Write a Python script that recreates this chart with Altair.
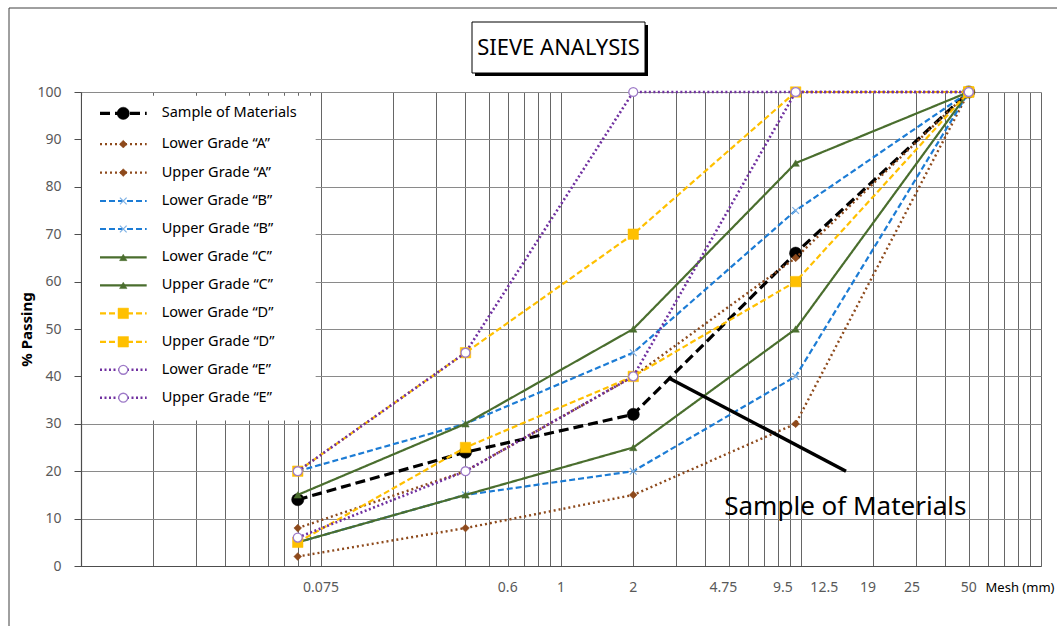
import altair as alt
import pandas as pd

# ---------------- data ----------------
sieve_mm = [0.08, 0.4, 2, 9.5, 50]

series_names = [
    "Sample of Materials",
    "Lower Grade \u201cA\u201d", "Upper Grade \u201cA\u201d",
    "Lower Grade \u201cB\u201d", "Upper Grade \u201cB\u201d",
    "Lower Grade \u201cC\u201d", "Upper Grade \u201cC\u201d",
    "Lower Grade \u201cD\u201d", "Upper Grade \u201cD\u201d",
    "Lower Grade \u201cE\u201d", "Upper Grade \u201cE\u201d",
]
sample = [14, 24, 32, 66, 100]
lower_a = [2, 8, 15, 30, 100]
upper_a = [8, 20, 40, 65, 100]
lower_b = [5, 15, 20, 40, 100]
upper_b = [20, 30, 45, 75, 100]
lower_c = [5, 15, 25, 50, 100]
upper_c = [15, 30, 50, 85, 100]
lower_d = [5, 25, 40, 60, 100]
upper_d = [20, 45, 70, 100, 100]
lower_e = [6, 20, 40, 100, 100]
upper_e = [20, 45, 100, 100, 100]
series_values = [sample, lower_a, upper_a, lower_b, upper_b, lower_c, upper_c,
                 lower_d, upper_d, lower_e, upper_e]

x_tick_labels = ["0.075", "0.6", "1", "2", "4.75", "9.5", "12.5", "19", "25", "50"]
x_tick_label_at = [0.1, 0.6, 1, 2, 4.75, 8.4, 12.5, 19, 29, 50]
y_ticks = list(range(0, 101, 10))
x_grid = [k * 10.0 ** e for e in (-2, -1, 0, 1) for k in range(1, 10)] + [100]

# legend layout (data coordinates)
legend_rows_y = [95.5, 89.0, 83.0, 77.0, 71.1, 65.1, 59.2, 53.3, 47.3, 41.4, 35.5]

FONT = "Noto Sans"
BROWN = "#8E4A1C"
BLUE = "#1C7CD5"
GREEN = "#4A6E2E"
YELLOW = "#FFC000"
PURPLE = "#7030A0"
XPATH = "M -1 -1 L 1 1 M -1 1 L 1 -1"

style = {
    "S": dict(color="#000000", dash=[10, 5], width=3.2, shape="circle", size=150,
              fill="#000000", mstroke="#000000", filled=True),
    "A": dict(color=BROWN, dash=[2, 3], width=2.4, shape="diamond", size=60,
              fill=BROWN, mstroke=BROWN, filled=True),
    "B": dict(color=BLUE, dash=[6, 3], width=2.2, shape=XPATH, size=45,
              fill=None, mstroke="#7FB2E5", filled=False),
    "C": dict(color=GREEN, dash=[1, 0], width=2.2, shape="triangle-up", size=55,
              fill=GREEN, mstroke=GREEN, filled=True),
    "D": dict(color=YELLOW, dash=[6, 3], width=2.2, shape="square", size=110,
              fill=YELLOW, mstroke=YELLOW, filled=True),
    "E": dict(color=PURPLE, dash=[2, 2.5], width=2.6, shape="circle", size=80,
              fill="#FFFFFF", mstroke="#9E7BC8", filled=True),
}
groups = ["S", "A", "A", "B", "B", "C", "C", "D", "D", "E", "E"]

xs = alt.Scale(type="log", domain=[0.01, 100], nice=False)
ys = alt.Scale(domain=[0, 100], nice=False)

X_AX = alt.Axis(
    values=x_grid, labels=False, ticks=False, grid=True,
    gridColor="#666666", gridWidth=1, domainColor="#4D4D4D", domainWidth=1.2,
    title=None)
Y_AX = alt.Axis(
    values=y_ticks, grid=True, gridColor="#8A8A8A", gridWidth=1.2,
    tickSize=7, tickColor="#4D4D4D", domainColor="#4D4D4D", domainWidth=1.2,
    labelColor="#595959", labelFont=FONT, labelFontSize=14, labelPadding=13,
    title="% Passing", titleFont=FONT, titleFontSize=15, titleFontWeight="bold",
    titleColor="#000000", titlePadding=2)


def X(field):
    return alt.X(field, scale=xs, axis=X_AX)


def Y(field):
    return alt.Y(field, scale=ys, axis=Y_AX)


W, H = 960, 474
layers = []

# data series
for name, vals, g in zip(series_names, series_values, groups):
    st = style[g]
    df = pd.DataFrame({"x": sieve_mm, "y": vals, "series": name})
    line = alt.Chart(df).mark_line(
        color=st["color"], strokeDash=st["dash"], strokeWidth=st["width"]
    ).encode(x=X("x:Q"), y=Y("y:Q"))
    pkw = dict(shape=st["shape"], size=st["size"], stroke=st["mstroke"], opacity=1)
    if st["filled"]:
        pkw.update(filled=True, fill=st["fill"], strokeWidth=1.3 if g == "E" else 0.5)
    else:
        pkw.update(filled=False, strokeWidth=1.2)
    pts = alt.Chart(df).mark_point(**pkw).encode(x=X("x:Q"), y=Y("y:Q"))
    layers += [line, pts]

# x tick labels
lab_df = pd.DataFrame({"x": x_tick_label_at, "t": x_tick_labels})
layers.append(alt.Chart(lab_df).mark_text(
    font=FONT, fontSize=14, color="#595959", baseline="middle", align="center"
).encode(x=X("x:Q"), y=alt.value(H + 22), text="t:N"))

one = pd.DataFrame({"a": [0]})
layers.append(alt.Chart(one).mark_text(
    font=FONT, fontSize=13, color="#000000", baseline="middle", align="center"
).encode(x=alt.value(939), y=alt.value(H + 22), text=alt.value("Mesh (mm)")))

# legend box
box_df = pd.DataFrame({"x1": [0.0101], "x2": [0.095], "y1": [30.7], "y2": [99.2]})
layers.append(alt.Chart(box_df).mark_rect(fill="#FFFFFF", stroke=None).encode(
    x=X("x1:Q"), x2="x2:Q", y=Y("y1:Q"), y2="y2:Q"))

# legend entries
for name, g, ly in zip(series_names, groups, legend_rows_y):
    st = style[g]
    ldf = pd.DataFrame({"x1": [0.0120], "x2": [0.01878], "xm": [0.015],
                        "xt": [0.0217], "y": [ly], "t": [name]})
    layers.append(alt.Chart(ldf).mark_rule(
        color=st["color"], strokeDash=st["dash"], strokeWidth=st["width"]
    ).encode(x=X("x1:Q"), x2="x2:Q", y=Y("y:Q")))
    pkw = dict(shape=st["shape"], size=st["size"], stroke=st["mstroke"], opacity=1)
    if st["filled"]:
        pkw.update(filled=True, fill=st["fill"], strokeWidth=1.3 if g == "E" else 0.5)
    else:
        pkw.update(filled=False, strokeWidth=1.2)
    layers.append(alt.Chart(ldf).mark_point(**pkw).encode(x=X("xm:Q"), y=Y("y:Q")))
    layers.append(alt.Chart(ldf).mark_text(
        font=FONT, fontSize=14.5, color="#000000", align="left", baseline="middle"
    ).encode(x=X("xt:Q"), y=Y("y:Q"), text="t:N"))

# annotation
ann_df = pd.DataFrame({"x1": [2.8], "x2": [15.4], "y1": [39.7], "y2": [20.0]})
layers.append(alt.Chart(ann_df).mark_rule(color="#000000", strokeWidth=3.5).encode(
    x=X("x1:Q"), x2="x2:Q", y=Y("y1:Q"), y2="y2:Q"))
ann_t = pd.DataFrame({"x": [15.3], "y": [12.4], "t": ["Sample of Materials"]})
layers.append(alt.Chart(ann_t).mark_text(
    font=FONT, fontSize=26, color="#000000", align="center", baseline="middle"
).encode(x=X("x:Q"), y=Y("y:Q"), text="t:N"))

# title box with shadow
layers.append(alt.Chart(one).mark_rect(fill="#000000").encode(
    x=alt.value(394), x2=alt.value(567), y=alt.value(-67), y2=alt.value(-16)))
layers.append(alt.Chart(one).mark_rect(fill="#FFFFFF", stroke="#000000", strokeWidth=1).encode(
    x=alt.value(391), x2=alt.value(564), y=alt.value(-70), y2=alt.value(-19)))
layers.append(alt.Chart(one).mark_text(
    font=FONT, fontSize=22, color="#000000", align="center", baseline="middle"
).encode(x=alt.value(477.5), y=alt.value(-44), text=alt.value("SIEVE ANALYSIS")))

# outer frame (top and left edges)
layers.append(alt.Chart(one).mark_rule(color="#404040", strokeWidth=1).encode(
    x=alt.value(-72), x2=alt.value(1000), y=alt.value(-84)))
layers.append(alt.Chart(one).mark_rule(color="#404040", strokeWidth=1).encode(
    x=alt.value(-72), y=alt.value(-84), y2=alt.value(H + 80)))

chart = alt.layer(*layers).properties(
    width=W, height=H,
    autosize=alt.AutoSizeParams(type="none"),
    padding={"left": 81, "top": 92, "right": 16, "bottom": 60},
    background="#FFFFFF",
).configure_view(stroke=None)

chart.save("out.html", embed_options={"renderer": "svg", "actions": False})
